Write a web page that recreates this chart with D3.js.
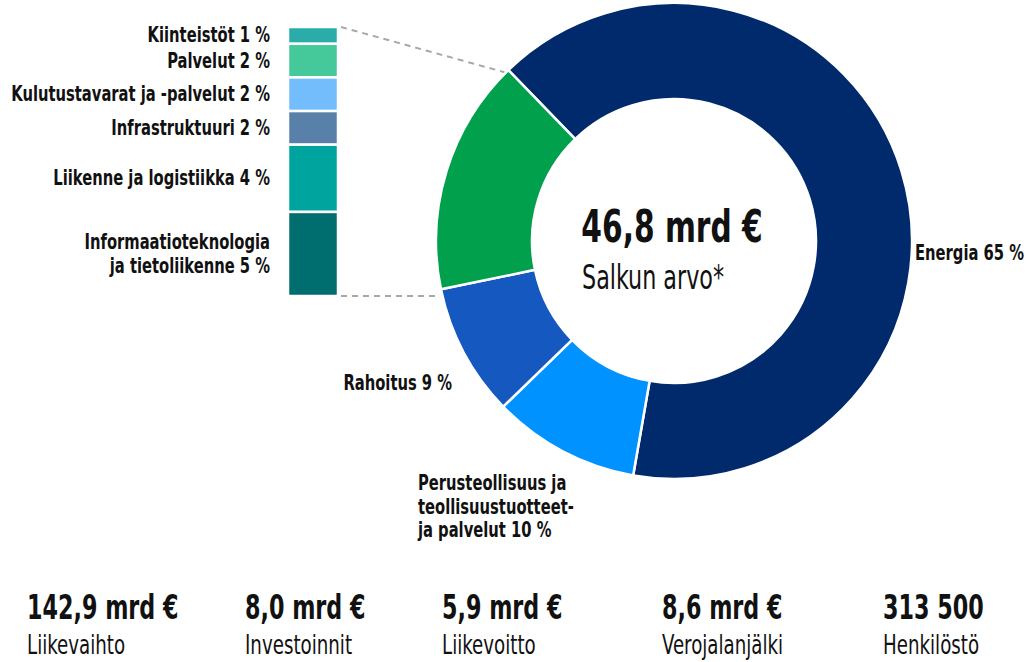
<!DOCTYPE html>
<html>
<head>
<meta charset="utf-8">
<script src="https://cdn.jsdelivr.net/npm/d3@7"></script>
<style>
  body { margin: 0; background: #fff; }
  svg text { font-family: "DejaVu Sans Condensed", "DejaVu Sans", sans-serif; fill: #111; }
</style>
</head>
<body>
<div id="chart"></div>
<script>
// donut data
let mainNames = ['Energia', 'Perusteollisuus', 'Rahoitus', 'Muut']
let mainValues = [65, 10, 9, 16]
let mainColors = ['#002a6c', '#0093ff', '#1558c0', '#00a04c']

// breakdown of the "Muut" slice
let subNames = ['Kiinteistöt 1 %', 'Palvelut 2 %', 'Kulutustavarat ja -palvelut 2 %', 'Infrastruktuuri 2 %',
    'Liikenne ja logistiikka 4 %', 'Informaatioteknologia|ja tietoliikenne 5 %']
let subValues = [1, 2, 2, 2, 4, 5]
let subColors = ['#2aaca8', '#45c89a', '#74bdfc', '#5880a8', '#00a49e', '#006e6e']

// key figures under the chart
let statValues = ['142,9 mrd €', '8,0 mrd €', '5,9 mrd €', '8,6 mrd €', '313 500']
let statLabels = ['Liikevaihto', 'Investoinnit', 'Liikevoitto', 'Verojalanjälki', 'Henkilöstö']

let width = 1028, height = 662
let cx = 674, cy = 241, rOuter = 238, rInner = 142

let svg = d3.select('#chart').append('svg').attr('width', width).attr('height', height)

// text squeezed horizontally to look like the condensed font of the original
function addText(x, y, str, size, bold, anchor, sx) {
    let g = svg.append('g').attr('transform', 'translate(' + x + ',' + y + ') scale(' + sx + ',1)')
    return g.append('text').attr('text-anchor', anchor || 'start')
        .style('font-size', size + 'px').style('font-weight', bold ? 'bold' : 'normal')
        .text(str)
}

let pie = d3.pie().sort(null).startAngle(-0.77).endAngle(-0.77 + 2 * Math.PI)
let arcs = pie(mainValues)
let arc = d3.arc().innerRadius(rInner).outerRadius(rOuter)

let donut = svg.append('g').attr('transform', 'translate(' + cx + ',' + cy + ')')
donut.selectAll('path').data(arcs).enter().append('path')
    .attr('d', arc)
    .attr('fill', (d, i) => mainColors[i])
    .attr('stroke', '#fff').attr('stroke-width', 2.5)

// stacked bar for the small sectors
let barX = 288, barW = 50
let y = d3.scaleLinear().domain([0, d3.sum(subValues)]).range([27, 296])
let cum = 0
let subData = subValues.map((v, i) => {
    let o = {name: subNames[i], v0: cum, v1: cum + v, color: subColors[i]}
    cum += v
    return o
})
svg.selectAll('.seg').data(subData).enter().append('rect').attr('class', 'seg')
    .attr('x', barX).attr('width', barW)
    .attr('y', d => y(d.v0))
    .attr('height', d => y(d.v1) - y(d.v0))
    .attr('fill', d => d.color)
    .attr('stroke', '#fff').attr('stroke-width', 2.5)

subData.forEach(d => {
    let lines = d.name.split('|')
    let mid = (y(d.v0) + y(d.v1)) / 2
    lines.forEach((l, j) => {
        addText(270, mid + 7 + (j - (lines.length - 1) / 2) * 24, l, 20.5, true, 'end', 0.8)
    })
})

// dashed connectors from bar to the green slice
let green = arcs[3]
let topPt = [cx + rOuter * Math.sin(green.endAngle), cy - rOuter * Math.cos(green.endAngle)]
let botPt = [cx + rOuter * Math.sin(green.startAngle), cy - rOuter * Math.cos(green.startAngle)]
svg.append('line').attr('x1', barX + barW + 3).attr('y1', y(0)).attr('x2', topPt[0] - 4).attr('y2', topPt[1] + 2)
    .attr('stroke', '#a8a8a8').attr('stroke-width', 2).attr('stroke-dasharray', '6,5')
svg.append('line').attr('x1', barX + barW + 3).attr('y1', y(16)).attr('x2', botPt[0] - 4).attr('y2', y(16))
    .attr('stroke', '#a8a8a8').attr('stroke-width', 2).attr('stroke-dasharray', '6,5')

// slice labels
addText(915, 260, 'Energia 65 %', 20.5, true, 'start', 0.8)
addText(452, 390, 'Rahoitus 9 %', 20.5, true, 'end', 0.8)
;['Perusteollisuus ja', 'teollisuustuotteet-', 'ja palvelut 10 %'].forEach((l, j) => {
    addText(418, 490 + j * 23.5, l, 20.5, true, 'start', 0.8)
})

// centre
addText(cx - 2, 242, '46,8 mrd €', 44, true, 'middle', 0.75)
addText(582, 289, 'Salkun arvo*', 33, false, 'start', 0.75)

// key figures
let statX = [27, 245, 442, 662, 883]
statValues.forEach((v, i) => {
    addText(statX[i], 619, v, 33, true, 'start', 0.75)
    addText(statX[i], 654, statLabels[i], 27, false, 'start', 0.75)
})
</script>
</body>
</html>
